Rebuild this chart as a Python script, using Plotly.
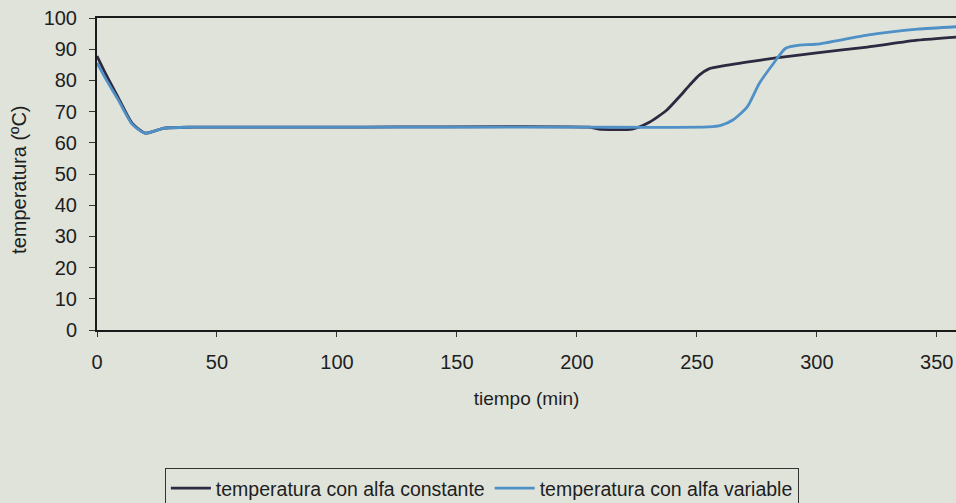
import plotly.graph_objects as go

# tiempo (min) and temperatures (ºC)
t_const = [0, 4, 8.7, 14.6, 20, 28, 40, 100, 205, 209, 223, 230, 237.5, 243, 247, 251, 255, 262, 270, 283, 300, 321, 342, 358]
v_const = [87.8, 81.5, 74.7, 66.3, 63.1, 64.7, 65, 65, 65, 64.4, 64.4, 66.5, 70.5, 75, 78.5, 81.7, 83.7, 84.8, 85.8, 87.2, 88.8, 90.7, 92.9, 93.9]

t_var = [0, 4, 8.7, 14.6, 20, 28, 40, 100, 200, 255, 260, 265, 271, 276, 282, 287, 293, 300, 321, 342, 358]
v_var = [85.6, 80, 74, 66, 63.1, 64.7, 65, 65, 65, 65.1, 65.6, 67.3, 71.5, 79, 85.5, 90.3, 91.3, 91.6, 94.5, 96.4, 97.2]

x_ticks = [0, 50, 100, 150, 200, 250, 300, 350]
y_ticks = [0, 10, 20, 30, 40, 50, 60, 70, 80, 90, 100]

name_const = "temperatura con alfa constante"
name_var = "temperatura con alfa variable"

bg = "#dfe3da"
dark = "#2c2940"
blue = "#4f90c6"
font = "Liberation Sans, Arial, sans-serif"

fig = go.Figure()
fig.add_trace(go.Scatter(x=t_const, y=v_const, mode="lines", name=name_const,
                         line=dict(color=dark, width=2.8, shape="spline", smoothing=0.6)))
fig.add_trace(go.Scatter(x=t_var, y=v_var, mode="lines", name=name_var,
                         line=dict(color=blue, width=2.8, shape="spline", smoothing=0.6)))

fig.update_layout(
    width=956, height=503,
    margin=dict(l=97, r=0, t=18, b=173, autoexpand=False),
    paper_bgcolor=bg, plot_bgcolor=bg,
    font=dict(family=font, size=20, color="#1e1e1e"),
    showlegend=True,
    legend=dict(orientation="h", x=0.079, y=-0.442, xanchor="left", yanchor="top",
                bgcolor=bg, bordercolor="#333333", borderwidth=1,
                font=dict(size=19.5, color="#1e1e1e"), itemwidth=40,
                tracegroupgap=0),
    xaxis=dict(range=[0, 358], tickvals=x_ticks, showgrid=False, zeroline=False,
               showline=True, linecolor="#1a1a1a", linewidth=2, mirror=True,
               ticks="outside", ticklen=5, tickcolor="#333333", ticklabelstandoff=8,
               title=dict(text="tiempo (min)", font=dict(size=19), standoff=20)),
    yaxis=dict(range=[0, 100], tickvals=y_ticks, showgrid=False, zeroline=False,
               showline=True, linecolor="#1a1a1a", linewidth=2,
               ticks="outside", ticklen=6, tickcolor="#333333", ticklabelstandoff=8),
    annotations=[dict(text="temperatura (ºC)", textangle=-90, xref="paper", yref="paper",
                      x=-0.090, y=0.48, xanchor="center", yanchor="middle",
                      showarrow=False, font=dict(size=20, color="#1e1e1e"))],
)

fig.write_html("out.html")
